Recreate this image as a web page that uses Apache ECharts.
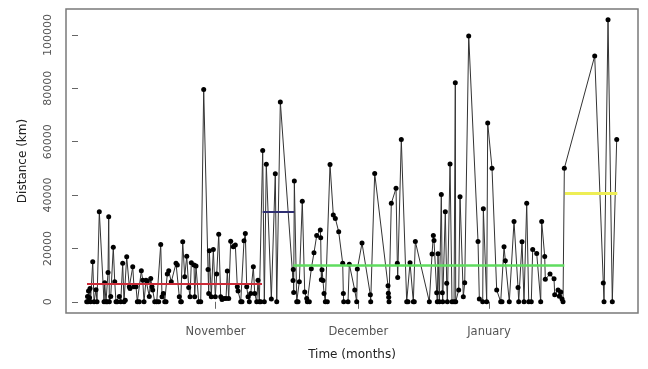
<!DOCTYPE html>
<html>
<head>
<meta charset="utf-8">
<script src="https://cdn.jsdelivr.net/npm/echarts@6/dist/echarts.min.js"></script>
<style>
html,body{margin:0;padding:0;background:#fff;}
#chart{width:648px;height:369px;}
</style>
</head>
<body>
<div id="chart"></div>
<script>
// Time of each observation, in days counted from 1 October
const days = [
1.93,2.11,2.22,2.33,2.56,2.67,2.78,3.27,3.56,4.0,4.22,4.73,5.78,5.93,6.22,6.51,6.67,6.82,6.96,7.27,
7.84,8.16,8.44,8.73,9.18,9.49,9.93,10.22,10.51,10.82,11.4,11.56,12.16,12.44,12.89,13.18,13.62,14.07,14.38,14.67,
15.11,15.4,15.84,16.16,16.44,16.6,17.04,17.49,17.93,18.38,18.67,18.96,19.27,19.56,19.84,20.16,20.73,21.78,22.07,22.51,
22.82,22.96,23.27,23.71,24.16,24.6,24.89,25.18,25.78,25.93,26.22,26.82,27.27,27.93,28.89,29.04,29.18,29.62,30.07,30.51,
30.82,31.27,31.71,32,32.44,32.89,33.18,33.49,33.93,34.51,34.96,35.4,35.56,36.16,36.44,36.89,37.18,37.49,37.78,38.07,
38.38,38.96,39.27,39.71,40,40.29,40.6,
41.04,41.4,41.84,42.96,43.84,44.16,44.96,
47.78,47.84,47.93,48.07,48.6,48.89,49.18,49.84,50.38,50.82,50.96,51.4,51.84,52.44,53.04,53.84,53.93,54.07,54.22,54.44,
54.67,54.96,55.4,56,56.73,57.18,57.93,58.82,58.96,59.04,60,60.29,61.49,61.93,62.07,63.11,64.96,65.04,65.93,68.89,
68.96,69.04,69.11,69.62,70.67,70.96,71.04,71.84,73.04,73.33,73.78,74.51,74.73,74.96,78.07,78.67,78.96,79.11,79.71,79.84,
80,80.29,80.73,80.96,81.04,81.62,81.93,82.07,82.67,83.11,83.56,83.84,83.93,84.6,84.89,85.62,85.93,86.82,88.89,89.18,
89.93,90.07,90.82,91.04,92,93.04,93.93,94.22,94.67,94.96,95.84,96.89,97.78,97.93,98.67,99.11,99.71,100.16,100.73,101.04,
101.93,102.82,103.04,103.71,103.84,104.89,105.78,105.93,106.67,106.96,107.27,107.56,107.78,
108.07,114.82,116.73,116.89,117.78,118.73,119.71
];
// Distance (km) of each observation
const distance = [
0,2000,0,4000,1500,5000,0,15000,0,4500,0,33750,0,7100,0,0,11000,31900,0,2000,
20400,7500,0,0,2000,0,14400,0,600,16900,5600,5000,13100,5600,5600,0,0,11600,8100,0,
8100,7700,2000,8700,5600,4400,0,0,0,21500,1900,3100,0,0,10400,11600,7500,14400,13800,1900,
0,0,22500,9400,17100,5400,1900,14600,13800,1900,13400,0,0,79500,12100,3100,19100,1900,19600,1900,
10400,25300,1900,900,1200,1200,11500,1200,22700,20600,21300,5600,4000,0,0,22900,25600,5600,1900,0,
3100,13100,3100,0,8100,0,0,
56700,0,51500,1000,48000,0,74900,
8000,12100,3500,45300,0,0,7500,37700,3700,1200,0,0,12400,18400,24800,26900,24000,8300,12000,8000,
3100,0,0,51400,32500,31250,26250,14400,3100,0,0,14100,4400,0,12250,22000,2600,0,48100,6000,
3200,1700,0,36900,42500,14400,9100,60800,0,0,14600,0,0,22600,0,17900,24800,23000,3400,0,
18000,0,40200,3400,0,33750,6900,0,51600,0,0,82100,0,4400,39400,1900,7100,99600,22600,1000,
0,34900,0,67000,50000,4400,0,0,20600,15400,0,30100,5400,0,22500,0,36900,0,0,19600,
18100,0,30100,17000,8400,10400,8600,2600,4400,2100,3700,1000,0,
50000,92100,7000,0,105700,0,60800
];
// Period means (horizontal segments)
const segStart = [2.0, 41.04, 47.84, 108.22];
const segEnd   = [40.89, 48.07, 108.07, 119.84];
const segMean  = [6700, 33600, 13600, 40600];
// Axis ticks
const monthTickDays = [30.56, 62.29, 91.33];
const monthLabels = ['November', 'December', 'January'];
const distTicks = [0, 20000, 40000, 60000, 80000, 100000];

const segColors = ['#cc2b38', '#2f2f72', '#5fdc5f', '#eeee55'];
const segWidths = [2, 2, 2.5, 3];

const font = 'DejaVu Sans';
const series = [{
  type: 'line',
  data: days.map((d, i) => [d, distance[i]]),
  symbol: 'circle',
  symbolSize: 5,
  itemStyle: { color: '#000' },
  lineStyle: { color: '#333', width: 1 },
  z: 2
}];
segMean.forEach((m, i) => {
  series.push({
    type: 'line',
    data: [[segStart[i], m], [segEnd[i], m]],
    symbol: 'none',
    lineStyle: { color: segColors[i], width: segWidths[i] },
    z: 5
  });
});

const chart = echarts.init(document.getElementById('chart'), null, { renderer: 'canvas' });
chart.setOption({
  animation: false,
  backgroundColor: '#fff',
  grid: {
    left: 66, right: 10, top: 9, bottom: 56,
    show: true, borderColor: '#7a7a7a', borderWidth: 1.5,
    containLabel: false, outerBoundsMode: 'none'
  },
  xAxis: {
    type: 'value', min: -2.67, max: 124.44,
    axisLine: { show: false },
    splitLine: { show: false },
    axisTick: { show: true, customValues: monthTickDays, length: 7, lineStyle: { color: '#666' } },
    axisLabel: {
      customValues: monthTickDays,
      formatter: v => monthLabels[monthTickDays.indexOf(v)] || '',
      margin: 13, fontSize: 11.5, color: '#555', fontFamily: font
    },
    name: 'Time (months)', nameLocation: 'middle', nameGap: 36,
    nameTextStyle: { fontSize: 12, color: '#222', fontFamily: font }
  },
  yAxis: {
    type: 'value', min: -4200, max: 109700,
    axisLine: { show: false },
    splitLine: { show: false },
    axisTick: { show: true, customValues: distTicks, length: 6, lineStyle: { color: '#666' } },
    axisLabel: {
      customValues: distTicks, rotate: 90,
      formatter: v => String(v),
      margin: 12, fontSize: 11, color: '#555', fontFamily: font
    },
    name: 'Distance (km)', nameLocation: 'middle', nameRotate: 90, nameGap: 37,
    nameTextStyle: { fontSize: 12, color: '#222', fontFamily: font }
  },
  series: series
});
</script>
</body>
</html>
